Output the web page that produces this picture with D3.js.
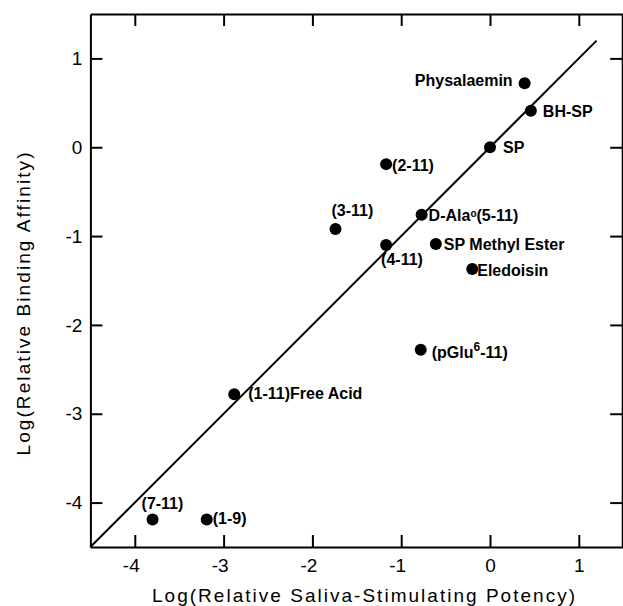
<!DOCTYPE html>
<html>
<head>
<meta charset="utf-8">
<script src="https://cdn.jsdelivr.net/npm/d3@7.9.0/dist/d3.min.js"></script>
<style>
  html, body { margin: 0; padding: 0; background: #fff; }
  svg { display: block; font-family: "Liberation Sans", Arial, sans-serif; }
  .axis path, .axis line { stroke: #000; stroke-width: 2; }
  .axis text { font-size: 19px; fill: #000; font-family: "Liberation Sans", Arial, sans-serif; }
  .pt-label { font-size: 16px; font-weight: bold; fill: #000; }
</style>
</head>
<body>
<svg id="chart" width="623" height="606"></svg>
<script>
// peptide analogues: log relative saliva-stimulating potency vs log relative binding affinity
const names = [
  'Physalaemin', 'BH-SP', 'SP', '(2-11)', '(3-11)', 'D-Ala°(5-11)', '(4-11)',
  'SP Methyl Ester', 'Eledoisin', '(pGlu6-11)', '(1-11)Free Acid', '(7-11)', '(1-9)'
];
const potency = [0.39, 0.46, 0.0, -1.17, -1.74, -0.77, -1.17, -0.61, -0.2, -0.78, -2.88, -3.8, -3.19];
const affinity = [0.72, 0.41, 0.0, -0.19, -0.92, -0.76, -1.1, -1.09, -1.37, -2.28, -2.78, -4.19, -4.19];

const xTicks = [-4, -3, -2, -1, 0, 1];
const yTicks = [-4, -3, -2, -1, 0, 1];
const identityLine = [-4.5, 1.2];

// where each label sits relative to its dot
const labelPlace = {
  'Physalaemin': { dx: -12, dy: 3, anchor: 'end' },
  'BH-SP': { dx: 12, dy: 6, anchor: 'start' },
  'SP': { dx: 13, dy: 6, anchor: 'start' },
  '(2-11)': { dx: 6, dy: 7, anchor: 'start' },
  '(3-11)': { dx: -4, dy: -13, anchor: 'start' },
  'D-Ala°(5-11)': { dx: 7, dy: 6, anchor: 'start' },
  '(4-11)': { dx: -5, dy: 20, anchor: 'start' },
  'SP Methyl Ester': { dx: 8, dy: 6, anchor: 'start' },
  'Eledoisin': { dx: 5, dy: 7, anchor: 'start' },
  '(pGlu6-11)': { dx: 11, dy: 8, anchor: 'start' },
  '(1-11)Free Acid': { dx: 14, dy: 5, anchor: 'start' },
  '(7-11)': { dx: -11, dy: -10, anchor: 'start' },
  '(1-9)': { dx: 6, dy: 5, anchor: 'start' }
};

const points = names.map((n, i) => ({ name: n, x: potency[i], y: affinity[i] }));

const svg = d3.select('#chart');

const x = d3.scaleLinear().domain([-4.5, 1.5]).range([90.4, 623.2]);
const y = d3.scaleLinear().domain([-4.5, 1.5]).range([547, 14]);

const fmt = (d) => String(d);

svg.append('g').attr('class', 'axis')
  .attr('transform', `translate(0,${y(-4.5)})`)
  .call(d3.axisBottom(x).tickValues(xTicks).tickSize(-12).tickSizeOuter(0).tickPadding(11.5).tickFormat(fmt))
  .call((g) => g.selectAll('text').attr('dx', (d) => (d < 0 ? -4 : 0)));

svg.append('g').attr('class', 'axis')
  .attr('transform', `translate(0,${y(1.5)})`)
  .call(d3.axisTop(x).tickValues(xTicks).tickSize(-12).tickSizeOuter(0).tickFormat(''));

svg.append('g').attr('class', 'axis')
  .attr('transform', `translate(${x(-4.5)},0)`)
  .call(d3.axisLeft(y).tickValues(yTicks).tickSize(-12).tickSizeOuter(0).tickPadding(8).tickFormat(fmt));

svg.append('g').attr('class', 'axis')
  .attr('transform', `translate(${x(1.5) - 1},0)`)
  .call(d3.axisRight(y).tickValues(yTicks).tickSize(-12).tickSizeOuter(0).tickFormat(''));

// line of identity
svg.append('line')
  .attr('x1', x(identityLine[0])).attr('y1', y(identityLine[0]))
  .attr('x2', x(identityLine[1])).attr('y2', y(identityLine[1]))
  .attr('stroke', '#000').attr('stroke-width', 2);

svg.selectAll('circle.pt')
  .data(points)
  .join('circle')
  .attr('class', 'pt')
  .attr('cx', (d) => x(d.x))
  .attr('cy', (d) => y(d.y))
  .attr('r', 6)
  .attr('fill', '#000');

const labels = svg.selectAll('text.pt-label')
  .data(points)
  .join('text')
  .attr('class', 'pt-label')
  .attr('x', (d) => x(d.x) + labelPlace[d.name].dx)
  .attr('y', (d) => y(d.y) + labelPlace[d.name].dy)
  .attr('text-anchor', (d) => labelPlace[d.name].anchor);

labels.each(function (d) {
  const t = d3.select(this);
  if (d.name === 'D-Ala°(5-11)') {
    t.append('tspan').text('D-Ala');
    t.append('tspan').attr('font-size', '10px').attr('dy', -4).text('o');
    t.append('tspan').attr('dy', 4).text('(5-11)');
  } else if (d.name === '(pGlu6-11)') {
    t.append('tspan').text('(pGlu');
    t.append('tspan').attr('font-size', '12px').attr('dy', -7).text('6');
    t.append('tspan').attr('dy', 7).text('-11)');
  } else {
    t.text(d.name);
  }
});

// axis titles
svg.append('text')
  .attr('x', 363.5).attr('y', 602)
  .attr('text-anchor', 'middle')
  .attr('font-size', 19)
  .attr('textLength', 423).attr('lengthAdjust', 'spacing')
  .text('Log(Relative Saliva-Stimulating Potency)');

svg.append('text')
  .attr('transform', 'translate(30,304) rotate(-90)')
  .attr('text-anchor', 'middle')
  .attr('font-size', 19)
  .attr('textLength', 303).attr('lengthAdjust', 'spacing')
  .text('Log(Relative Binding Affinity)');
</script>
</body>
</html>
